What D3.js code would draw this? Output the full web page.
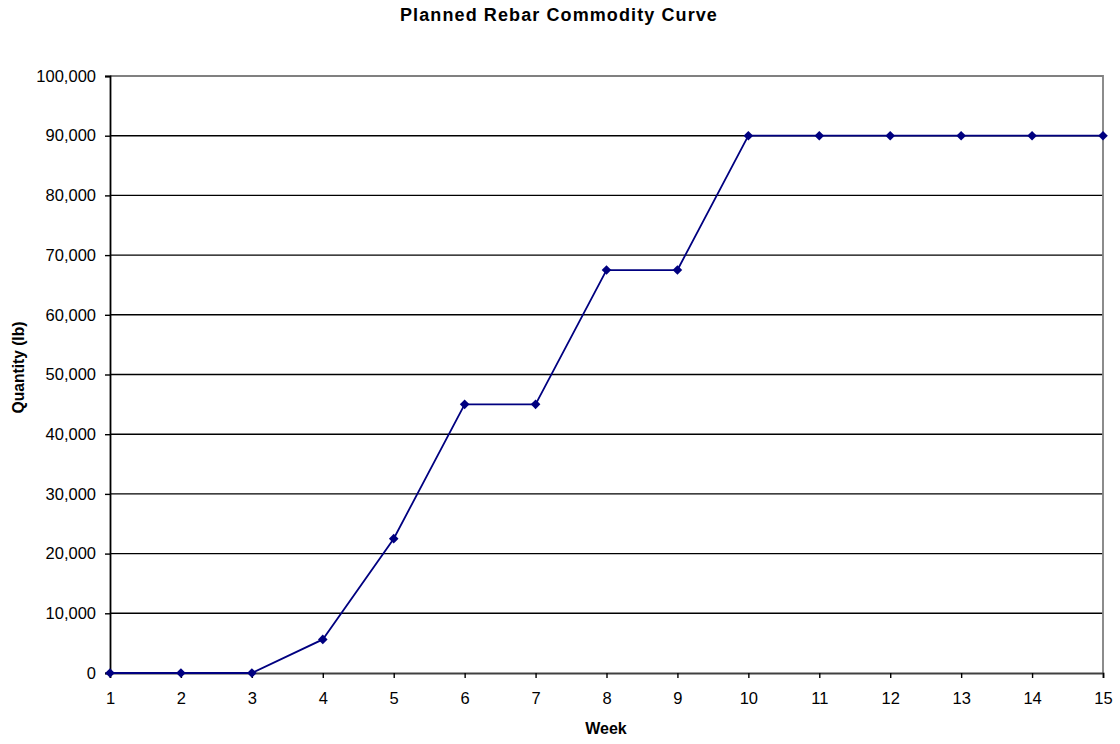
<!DOCTYPE html>
<html>
<head>
<meta charset="utf-8">
<script src="https://cdn.jsdelivr.net/npm/d3@7"></script>
<style>
  body { margin: 0; background: #fff; }
  svg { font-family: "Liberation Sans", Arial, sans-serif; }
</style>
</head>
<body>
<svg width="1120" height="744"></svg>
<script>
// chart data
const weeks = [1, 2, 3, 4, 5, 6, 7, 8, 9, 10, 11, 12, 13, 14, 15];
const quantity = [0, 0, 0, 5625, 22500, 45000, 45000, 67500, 67500, 90000, 90000, 90000, 90000, 90000, 90000];
const yTicks = [0, 10000, 20000, 30000, 40000, 50000, 60000, 70000, 80000, 90000, 100000];

const svg = d3.select('svg');
const plotLeft = 110, plotRight = 1103, plotTop = 76, plotBottom = 673;

const x = d3.scaleLinear().domain([1, 15]).range([plotLeft, plotRight]);
const y = d3.scaleLinear().domain([0, 100000]).range([plotBottom, plotTop]);

// gridlines
svg.append('g')
  .selectAll('line')
  .data(yTicks.slice(1, -1))
  .enter()
  .append('line')
  .attr('x1', plotLeft).attr('x2', plotRight)
  .attr('y1', d => y(d))
  .attr('y2', d => y(d))
  .attr('stroke', '#000').attr('stroke-width', 1.4);

// plot border (top, right)
svg.append('path')
  .attr('d', `M${plotLeft},${plotTop}H${plotRight}V${plotBottom}`)
  .attr('fill', 'none').attr('stroke', '#808080').attr('stroke-width', 1.8);

// axes
const yAxis = svg.append('g')
  .attr('transform', `translate(${plotLeft},0)`)
  .call(d3.axisLeft(y).tickValues(yTicks).tickSize(5).tickPadding(9).tickFormat(d3.format(',')));
const xAxis = svg.append('g')
  .attr('transform', `translate(0,${plotBottom})`)
  .call(d3.axisBottom(x).tickValues(weeks).tickSize(5).tickPadding(14).tickFormat(d3.format('d')));

[yAxis, xAxis].forEach(a => {
  a.select('.domain').attr('stroke', '#000').attr('stroke-width', 1.8);
  a.selectAll('.tick line').attr('stroke', '#000').attr('stroke-width', 1.4);
  a.selectAll('.tick text').attr('fill', '#000')
    .style('font-size', '16.5px').style('font-family', '"Liberation Sans", Arial, sans-serif');
});
xAxis.select('.domain').attr('stroke', '#404040');

// line
const pts = weeks.map((w, i) => ({ w: w, q: quantity[i] }));
svg.append('path')
  .datum(pts)
  .attr('fill', 'none')
  .attr('stroke', '#000080')
  .attr('stroke-width', 1.8)
  .attr('d', d3.line().x(d => x(d.w)).y(d => y(d.q)));

// diamond markers
svg.append('g')
  .selectAll('path')
  .data(pts)
  .enter()
  .append('path')
  .attr('transform', d => `translate(${x(d.w)},${y(d.q)})`)
  .attr('d', 'M0,-4.8L4.8,0L0,4.8L-4.8,0Z')
  .attr('fill', '#000080');

// title and axis labels
svg.append('text')
  .attr('x', 559).attr('y', 20.7)
  .attr('text-anchor', 'middle')
  .style('font-size', '18px').style('font-weight', 'bold')
  .style('letter-spacing', '1.1px')
  .text('Planned Rebar Commodity Curve');

svg.append('text')
  .attr('x', 606).attr('y', 734)
  .attr('text-anchor', 'middle')
  .style('font-size', '16px').style('font-weight', 'bold')
  .text('Week');

svg.append('text')
  .attr('transform', 'translate(23.5,367.5) rotate(-90)')
  .attr('text-anchor', 'middle')
  .style('font-size', '15.6px').style('font-weight', 'bold')
  .text('Quantity (lb)');
</script>
</body>
</html>
